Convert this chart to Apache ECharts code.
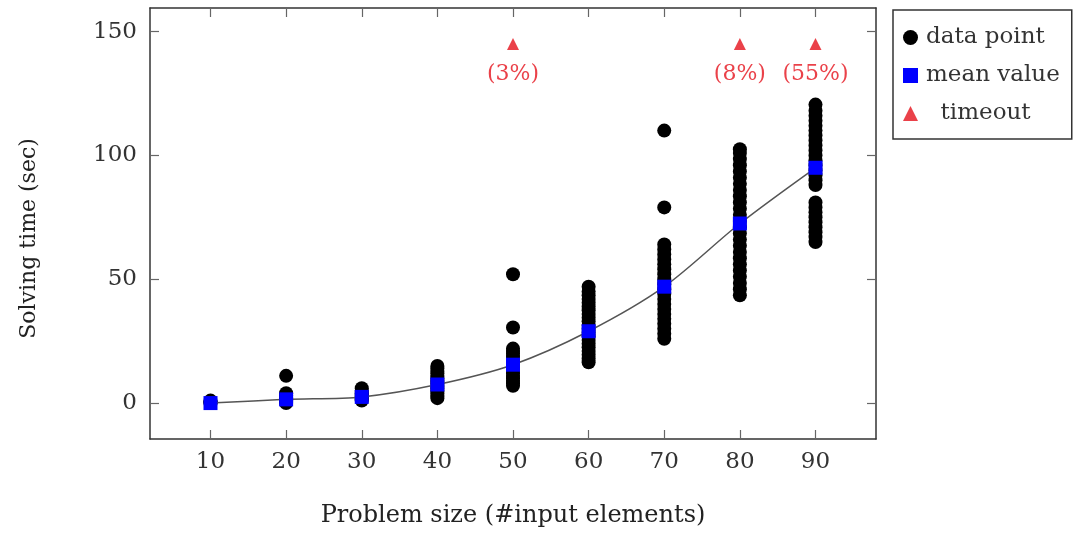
<!DOCTYPE html>
<html>
<head>
<meta charset="utf-8">
<script src="https://cdn.jsdelivr.net/npm/echarts@6/dist/echarts.min.js"></script>
<style>
html,body{margin:0;padding:0;background:#fff;}
#top{width:1077px;height:533px;}
</style>
</head>
<body>
<div id="top"></div>
<script>
// problem sizes and the solving times
var sizes = [10, 20, 30, 40, 50, 60, 70, 80, 90];
var times10 = [0, 0, 0.5, 1];
var times20 = [0, 0.5, 1, 1.5, 2, 3, 4, 11];
var times30 = [1, 1.5, 2, 2.5, 3, 3.5, 4, 5, 6];
var times40 = [2, 3, 4, 5, 6, 7, 8, 9, 10, 11, 12, 13, 14, 15];
var times50 = [7, 8, 9, 10, 11, 12, 13, 14, 15, 16, 17, 18, 19, 20, 21, 22, 30.5, 52];
var times60 = [16.5, 18, 19.5, 21, 22.5, 24, 25.5, 27, 28.5, 30, 31.5, 33, 34.5, 36, 37.5, 39, 40.5, 42, 43.5, 45, 47];
var times70 = [26, 28, 30, 32, 34, 36, 38, 40, 42, 44, 46, 48, 50, 52, 54, 56, 58, 60, 62, 64, 79, 110];
var times80 = [43.5, 46, 48.5, 51, 53.5, 56, 58.5, 61, 63.5, 66, 68.5, 71, 73.5, 76, 78.5, 81, 83.5, 86, 88.5, 91, 93.5, 96, 98.5, 101, 102.5];
var times90 = [65, 67, 69, 71, 73, 75, 77, 79, 81, 88, 90, 92, 94, 96, 98, 100, 102, 104, 106, 108, 110, 112, 114, 116, 118, 120.5];
var meanValues = [0, 1.5, 2.5, 7.5, 15.5, 29, 47, 72.5, 95];
var timeoutSizes = [50, 80, 90];
var timeoutLabels = ['(3%)', '(8%)', '(55%)'];
var timeoutLevel = 145;
var yTicks = [0, 50, 100, 150];

var myChart;
window.onload = function(){
	myChart = echarts.init(document.getElementById('top'));
	myChart.setOption(getOptionMychart(), true);
};

function getOptionMychart() {
	var allTimes = [times10, times20, times30, times40, times50, times60, times70, times80, times90];
	var points = [];
	for (var i = 0; i < sizes.length; i++) {
		for (var j = 0; j < allTimes[i].length; j++) {
			points.push([sizes[i], allTimes[i][j]]);
		}
	}
	var means = [];
	for (var k = 0; k < sizes.length; k++) {
		means.push([sizes[k], meanValues[k]]);
	}
	var timeouts = [];
	for (var t = 0; t < timeoutSizes.length; t++) {
		timeouts.push({value: [timeoutSizes[t], timeoutLevel], label: {formatter: timeoutLabels[t]}});
	}
	var serif = 'DejaVu Serif';
	var frame = {show: true, onZero: false, lineStyle: {color: '#333', width: 1.5}};

	var optionArray = {
		animation: false,
		textStyle: {fontFamily: serif},
		grid: {left: 150, right: 201, top: 8, bottom: 93},
		legend: {
			left: 893,
			top: 10,
			orient: 'vertical',
			padding: [16, 12, 14, 10],
			itemGap: 15,
			itemWidth: 15,
			itemHeight: 15,
			borderColor: '#333',
			borderWidth: 1.5,
			textStyle: {fontFamily: serif, fontSize: 23, color: '#333', padding: [0, 0, 0, 3]},
			data: [
				{name: 'data point', icon: 'circle'},
				{name: 'mean value', icon: 'rect'},
				{name: 'timeout', icon: 'triangle'}
			],
			formatter: function(name){ return name == 'timeout' ? '  timeout' : name; }
		},
		xAxis: [{
			type: 'value',
			min: 2,
			max: 98,
			name: 'Problem size (#input elements)',
			nameLocation: 'middle',
			nameGap: 65,
			nameTextStyle: {fontFamily: serif, fontSize: 24, color: '#222'},
			axisLine: frame,
			axisTick: {show: true, inside: true, length: 9, lineStyle: {color: '#666', width: 1.2}, customValues: sizes},
			axisLabel: {fontFamily: serif, fontSize: 23, color: '#333', margin: 12, customValues: sizes},
			splitLine: {show: false}
		}, {
			type: 'value',
			position: 'top',
			min: 2,
			max: 98,
			axisLine: frame,
			axisTick: {show: true, inside: true, length: 9, lineStyle: {color: '#666', width: 1.2}, customValues: sizes},
			axisLabel: {show: false},
			splitLine: {show: false}
		}],
		yAxis: [{
			type: 'value',
			min: -14.5,
			max: 159.5,
			name: 'Solving time (sec)',
			nameLocation: 'middle',
			nameGap: 110,
			nameTextStyle: {fontFamily: serif, fontSize: 22, color: '#222', padding: [0, 30, 0, 0]},
			axisLine: frame,
			axisTick: {show: true, inside: true, length: 9, lineStyle: {color: '#666', width: 1.2}, customValues: yTicks},
			axisLabel: {fontFamily: serif, fontSize: 23, color: '#333', margin: 13, customValues: yTicks},
			splitLine: {show: false}
		}, {
			type: 'value',
			position: 'right',
			min: -14.5,
			max: 159.5,
			axisLine: frame,
			axisTick: {show: true, inside: true, length: 9, lineStyle: {color: '#666', width: 1.2}, customValues: yTicks},
			axisLabel: {show: false},
			splitLine: {show: false}
		}],
		series: [{
			name: 'data point',
			type: 'scatter',
			symbol: 'circle',
			symbolSize: 14,
			itemStyle: {color: '#000', opacity: 1},
			data: points,
			z: 2
		}, {
			name: 'mean value',
			type: 'line',
			smooth: 0.3,
			symbol: 'rect',
			symbolSize: 14,
			itemStyle: {color: '#0000ff'},
			lineStyle: {color: '#555', width: 1.5},
			data: means,
			z: 3
		}, {
			name: 'timeout',
			type: 'scatter',
			symbol: 'triangle',
			symbolSize: 12,
			itemStyle: {color: '#e5121b'},
			label: {
				show: true,
				position: 'bottom',
				distance: 13,
				fontFamily: serif,
				fontSize: 22,
				color: '#e5121b'
			},
			data: timeouts,
			z: 4
		}]
	};
	return optionArray;
}
</script>
</body>
</html>
